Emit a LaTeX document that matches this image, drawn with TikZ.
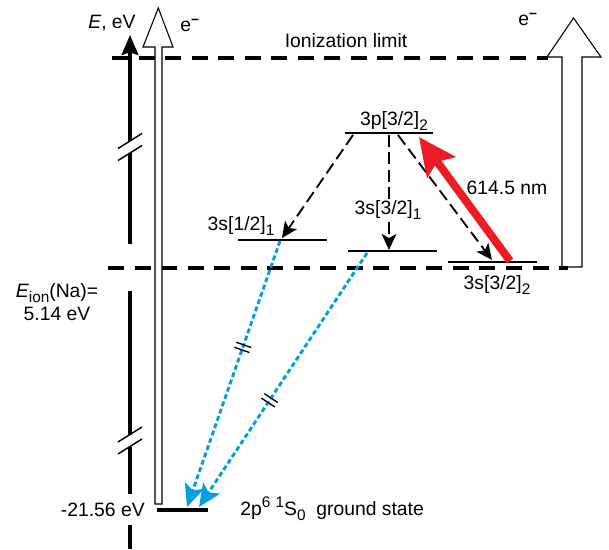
\documentclass[tikz,border=0pt]{standalone}
\usepackage{fontspec}
\setmainfont{Liberation Sans}
\usetikzlibrary{arrows.meta, positioning, decorations.markings}
\definecolor{laserred}{RGB}{237,28,36}
\definecolor{decayblue}{RGB}{0,157,224}
\newcommand{\lsub}[1]{\raisebox{-0.5ex}{\fontsize{11.5}{11.5}\selectfont #1}}
\newcommand{\lsup}[1]{\raisebox{0.85ex}{\fontsize{11.5}{11.5}\selectfont #1}}

\begin{document}
\begin{tikzpicture}[
    x=0.75pt, y=-0.75pt,
    every node/.style={font=\fontsize{14.5}{17}\selectfont, inner sep=1pt},
    level/.style={line width=1.5pt},
    ground/.style={line width=3pt},
    limit/.style={line width=3pt, dash pattern=on 12pt off 7.9pt},
    axis/.style={line width=2.5pt},
    brk/.style={line width=1.1pt},
    hollow/.style={draw, fill=white, line width=0.8pt, line join=miter},
    decay/.style={line width=1.4pt, dash pattern=on 9pt off 4pt, -{Stealth[length=12pt, width=11pt, inset=3pt]}},
    radiative/.style={line width=2.2pt, draw=decayblue, dash pattern=on 3.6pt off 2.2pt, -{Stealth[length=17pt, width=15pt, inset=4pt]}},
    pump/.style={line width=6pt, draw=laserred, -{Stealth[length=28pt, width=26pt, inset=5pt]}},
    breakmark/.style={postaction={decorate}, decoration={markings, mark=at position #1 with {\draw[black, solid, line width=1pt, -] (-2pt,-6pt) -- (-2pt,6pt) (2pt,-6pt) -- (2pt,6pt);}}}
]
\useasboundingbox (0,0) rectangle (609,549);

% levels
\coordinate (p32a) at (345,133); \coordinate (p32b) at (433,133);
\coordinate (s12a) at (238,240); \coordinate (s12b) at (327,240);
\coordinate (s31a) at (348,251); \coordinate (s31b) at (437,251);
\coordinate (s32a) at (448,262); \coordinate (s32b) at (537,262);
\coordinate (gsa) at (157,510); \coordinate (gsb) at (208,510);
\coordinate (ionL) at (112,58); \coordinate (ionR) at (548,58);
\coordinate (naL) at (108,268); \coordinate (naR) at (568,268);

% transition end points
\coordinate (p32o1) at (353,135); \coordinate (s12i) at (282,238);
\coordinate (p32o2) at (389,135); \coordinate (s31i) at (389,250);
\coordinate (p32o3) at (398,135); \coordinate (s32i) at (492,260);
\coordinate (s32o) at (510,261); \coordinate (p32i) at (419,137);
\coordinate (s12o) at (280,241); \coordinate (gsi1) at (187,507);
\coordinate (s31o) at (367,253); \coordinate (gsi2) at (199,507);

% energy axis
\coordinate (axtop) at (130,35);
\coordinate (ax1) at (130,244); \coordinate (ax2) at (130,291);
\coordinate (ax3) at (130,494); \coordinate (ax4) at (130,525);
\coordinate (ax5) at (130,549);

\draw[hollow] (562,267) -- (562,57) -- (547,57) -- (573.5,18) -- (601,57) -- (582,57) -- (582,267) -- cycle;
\draw[limit] (ionL) -- (ionR);
\draw[limit] (naL) -- (naR);
\draw[hollow] (155,504) -- (155,47) -- (143,47) -- (158.3,8) -- (173,47) -- (162,47) -- (162,504) -- cycle;

\draw[axis] (ax1) -- (130,153);
\draw[axis, -{Stealth[length=15pt, width=12.5pt, inset=2pt]}] (130,141) -- (axtop);
\draw[axis] (ax2) -- (130,434.5) (130,446.5) -- (ax3);
\draw[axis] (ax4) -- (ax5);
\foreach \c in {141,153,434.5,446.5}
  \draw[brk] (118,\c+7.5) -- (142,\c-7.5);

\draw[level] (p32a) -- (p32b);
\draw[level] (s12a) -- (s12b);
\draw[level] (s31a) -- (s31b);
\draw[level] (s32a) -- (s32b);
\draw[ground] (gsa) -- (gsb);

% Connectors
\draw[decay] (p32o1) -- (s12i);
\draw[decay] (p32o2) -- (s31i);
\draw[decay] (p32o3) -- (s32i);
\draw[pump] (s32o) -- (p32i);
\draw[radiative, breakmark=0.4] (s12o) -- (gsi1);
\draw[radiative, breakmark=0.58] (s31o) -- (gsi2);

\node (elab) at (112,23) {\textit{E}, eV};
\node (eleft) at (190,25) {e\textsuperscript{\textbf{−}}};
\node (eright) at (528,19) {e\textsuperscript{\textbf{−}}};
\node (ionlab) at (346,41) {Ionization limit};
\node (p32lab) at (394,121) {3p[3/2]\lsub{2}};
\node (s12lab) at (241,226) {3s[1/2]\lsub{1}};
\node[fill=white] (s31lab) at (388,210) {3s[3/2]\lsub{1}};
\node (s32lab) at (497,285) {3s[3/2]\lsub{2}};
\node (wavelength) at (507,188) {614.5 nm};
\node[align=center] (eion) at (57,302) {\textit{E}\lsub{ion}(Na)=\\5.14 eV};
\node[left=8pt of gsa] (gsE) {-21.56 eV};
\node[right=23pt of gsb, yshift=1pt] (gslab) {2p\lsup{6} \lsup{1}S\lsub{0}\ \ ground state};

\end{tikzpicture}
\end{document}
